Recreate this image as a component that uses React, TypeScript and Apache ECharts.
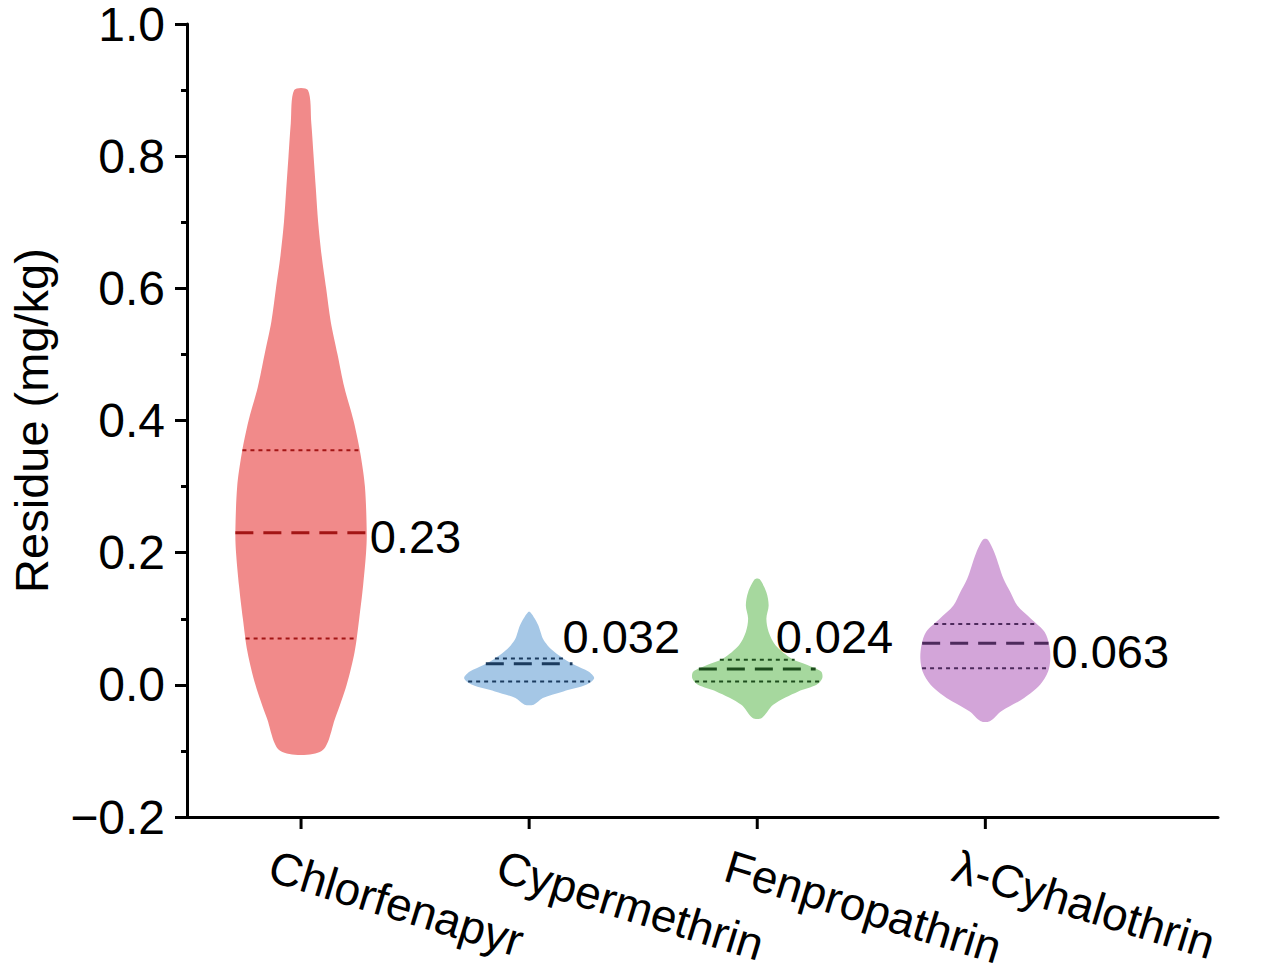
import React, { useEffect, useRef } from "react";
import * as echarts from "echarts";

const categories = ["Chlorfenapyr", "Cypermethrin", "Fenpropathrin", "λ-Cyhalothrin"];
const fills = ["#f18a8a", "#a5c7e6", "#a6d89e", "#d3a5d9"];
const lineColors = ["#a31515", "#1b3b5e", "#1d4d1d", "#4d2a5c"];

// violin profiles: y levels and half-widths (in category units)
const violinY = [
  [-0.1, -0.05, 0.0, 0.05, 0.1, 0.15, 0.2, 0.23, 0.3, 0.35, 0.4, 0.45, 0.5, 0.55, 0.6, 0.65, 0.7, 0.75, 0.8, 0.85, 0.9],
  [-0.03, -0.02, -0.01, 0.0, 0.01, 0.02, 0.03, 0.04, 0.05, 0.06, 0.07, 0.08, 0.09, 0.1, 0.11],
  [-0.05, -0.03, -0.01, 0.0, 0.01, 0.02, 0.03, 0.04, 0.06, 0.08, 0.1, 0.12, 0.14, 0.16],
  [-0.055, -0.04, -0.02, 0.0, 0.02, 0.04, 0.06, 0.08, 0.1, 0.12, 0.14, 0.16, 0.18, 0.2, 0.22],
];
const violinW = [
  [0.09, 0.15, 0.2, 0.235, 0.255, 0.272, 0.285, 0.288, 0.28, 0.26, 0.23, 0.19, 0.16, 0.13, 0.11, 0.09, 0.075, 0.065, 0.055, 0.045, 0.03],
  [0.02, 0.06, 0.15, 0.25, 0.285, 0.26, 0.2, 0.15, 0.11, 0.08, 0.06, 0.05, 0.04, 0.025, 0.005],
  [0.02, 0.07, 0.18, 0.26, 0.285, 0.28, 0.22, 0.15, 0.08, 0.05, 0.04, 0.05, 0.04, 0.01],
  [0.02, 0.07, 0.17, 0.24, 0.275, 0.285, 0.28, 0.26, 0.2, 0.14, 0.11, 0.08, 0.06, 0.04, 0.01],
];
const medians = [0.23, 0.032, 0.024, 0.063];
const q1 = [0.07, 0.005, 0.005, 0.025];
const q3 = [0.355, 0.04, 0.038, 0.092];
const medianLabels = ["0.23", "0.032", "0.024", "0.063"];
const labelY = [0.225, 0.073, 0.073, 0.05];
const labelDx = [3, -10, -40, 3];

const widthAt = (i: number, y: number) => {
  const ys = violinY[i], ws = violinW[i];
  for (let k = 0; k < ys.length - 1; k++) {
    if (y >= ys[k] && y <= ys[k + 1]) {
      const t = (y - ys[k]) / (ys[k + 1] - ys[k]);
      return ws[k] + t * (ws[k + 1] - ws[k]);
    }
  }
  return 0;
};

const App: React.FC = () => {
  const chartRef = useRef<HTMLDivElement>(null);

  useEffect(() => {
    if (!chartRef.current) return;
    const chart = echarts.init(chartRef.current, null, { renderer: "svg" });
    const font = "Arial, 'Liberation Sans', sans-serif";
    const option = {
      animation: false,
      grid: { left: 180, top: 24, right: 62, bottom: 150 },
      xAxis: {
        type: "value",
        min: 0.5,
        max: 5.02,
        splitLine: { show: false },
        axisLine: { onZero: false, lineStyle: { color: "#000", width: 3 } },
        axisTick: { show: false },
        axisLabel: { show: false },
      },
      yAxis: {
        type: "value",
        min: -0.2,
        max: 1.0,
        interval: 0.2,
        name: "Residue (mg/kg)",
        nameLocation: "middle",
        nameGap: 132,
        nameTextStyle: { fontSize: 47, color: "#000", fontFamily: font },
        splitLine: { show: false },
        axisLine: { show: true, lineStyle: { color: "#000", width: 3 } },
        axisTick: { show: true, length: 12, lineStyle: { width: 3, color: "#000" } },
        minorTick: { show: true, splitNumber: 2, length: 6, lineStyle: { width: 3, color: "#000" } },
        axisLabel: {
          fontSize: 48,
          color: "#000",
          fontFamily: font,
          margin: 22,
          formatter: (v: number) => v.toFixed(1).replace("-", "\u2212"),
        },
      },
      series: [
        {
          type: "custom",
          data: categories.map((_, i) => [i + 1, medians[i]]),
          renderItem: (params: any, api: any) => {
            const i = params.dataIndex;
            const cx = i + 1;
            const ys = violinY[i], ws = violinW[i];
            const left = ys.map((y, k) => api.coord([cx - ws[k], y]));
            const right = ys.map((y, k) => api.coord([cx + ws[k], y])).reverse();
            const hline = (y: number, dash: number[], w: number) => {
              const hw = widthAt(i, y);
              const a = api.coord([cx - hw, y]);
              const b = api.coord([cx + hw, y]);
              return {
                type: "line",
                shape: { x1: a[0], y1: a[1], x2: b[0], y2: b[1] },
                style: { stroke: lineColors[i], lineWidth: w, lineDash: dash },
              };
            };
            const mEnd = api.coord([cx + widthAt(i, medians[i]), labelY[i]]);
            const base = api.coord([cx, -0.2]);
            return {
              type: "group",
              children: [
                { type: "polygon", shape: { points: [...left, ...right], smooth: 0.3 }, style: { fill: fills[i] } },
                hline(q1[i], [4, 4], 2),
                hline(q3[i], [4, 4], 2),
                hline(medians[i], [18, 10], 3),
                {
                  type: "text",
                  x: mEnd[0] + labelDx[i],
                  y: mEnd[1],
                  style: { text: medianLabels[i], fontSize: 47, fill: "#000", fontFamily: font, verticalAlign: "middle" },
                },
                {
                  type: "line",
                  shape: { x1: base[0], y1: base[1], x2: base[0], y2: base[1] + 12 },
                  style: { stroke: "#000", lineWidth: 3 },
                },
                {
                  type: "text",
                  x: base[0] - 24,
                  y: base[1] + 26,
                  rotation: -17 * Math.PI / 180,
                  style: { text: categories[i], fontSize: 46, fill: "#000", fontFamily: font, verticalAlign: "top" },
                },
              ],
            };
          },
        },
      ],
    };
    chart.setOption(option as any);
    return () => chart.dispose();
  }, []);

  return (
    <div
      ref={chartRef}
      style={{ position: "fixed", left: 0, top: 0, width: 1280, height: 967, background: "#fff" }}
    ></div>
  );
};

export default App;
